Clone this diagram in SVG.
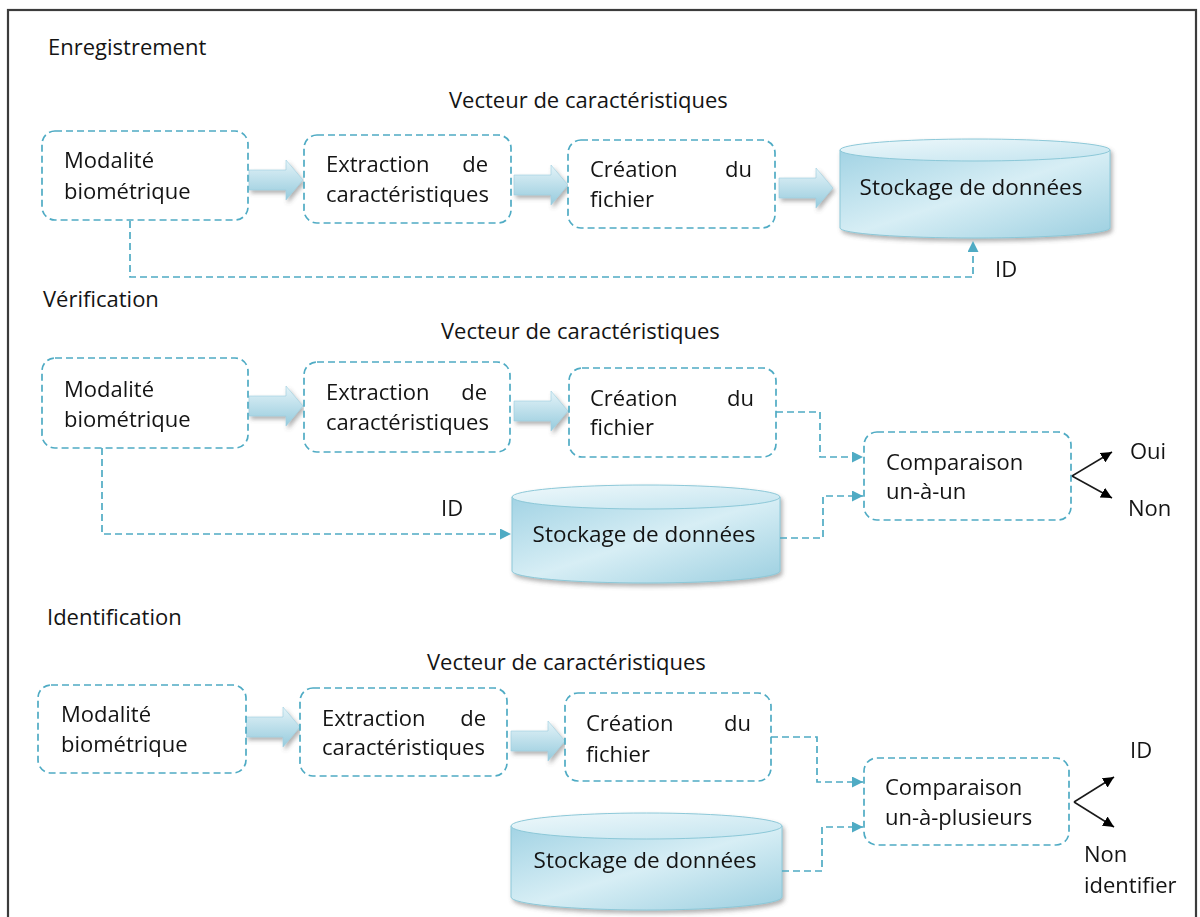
<svg xmlns="http://www.w3.org/2000/svg" width="1200" height="917" viewBox="0 0 1200 917">
  <style>
    .t { font-family: "Open Sans", "Liberation Sans", sans-serif; font-size: 22px; fill: #141414; }
    .c { font-size: 22.5px; }
    .e { text-anchor: end; }
    .m { text-anchor: middle; }
    .box { fill: #ffffff; stroke: #4fabc4; stroke-width: 1.7; stroke-dasharray: 7 4; }
    .dash { fill: none; stroke: #4fabc4; stroke-width: 1.7; stroke-dasharray: 7 4; }
    .res { fill: none; stroke: #1a1a1a; stroke-width: 1.6; }
    .cylbody { fill: url(#cylGrad); stroke: #8cc8d8; stroke-width: 1; }
    .cyltop { fill: url(#cylTopGrad); stroke: #8cc8d8; stroke-width: 1; }
    .blk { fill: url(#arrGrad); stroke: #9ccfdf; stroke-width: 0.6; }
  </style>
  <defs>
    <linearGradient id="cylGrad" x1="0" y1="0" x2="1" y2="1">
      <stop offset="0" stop-color="#a2d3e4"/>
      <stop offset="0.5" stop-color="#d7eef5"/>
      <stop offset="1" stop-color="#9ccfe0"/>
    </linearGradient>
    <linearGradient id="cylTopGrad" x1="0" y1="0" x2="1" y2="1">
      <stop offset="0" stop-color="#eef8fb"/>
      <stop offset="1" stop-color="#c3e4ef"/>
    </linearGradient>
    <linearGradient id="arrGrad" x1="0" y1="0" x2="0" y2="1">
      <stop offset="0" stop-color="#e4f3f8"/>
      <stop offset="1" stop-color="#96cbdd"/>
    </linearGradient>
    <filter id="shadow" x="-10%" y="-20%" width="130%" height="160%">
      <feDropShadow dx="2" dy="3" stdDeviation="2" flood-color="#555" flood-opacity="0.45"/>
    </filter>
    <marker id="tri" viewBox="0 0 10 10" refX="10" refY="5" markerWidth="11" markerHeight="11" markerUnits="userSpaceOnUse" orient="auto">
      <path d="M0,0 L10,5 L0,10 Z" fill="#4fabc4"/>
    </marker>
    <marker id="blackTri" viewBox="0 0 10 10" refX="10" refY="5" markerWidth="11" markerHeight="11" markerUnits="userSpaceOnUse" orient="auto">
      <path d="M0,0 L10,5 L0,10 Z" fill="#000"/>
    </marker>
    <path id="blockArrow" class="blk" d="M0,-10 H37 V-20 L54,0 L37,20 V10 H0 Z"/>
  </defs>

  <rect width="1200" height="917" fill="#ffffff"/>
  <!-- outer frame -->
  <rect x="8" y="10" width="1188" height="1000" fill="none" stroke="#3c3c3c" stroke-width="2.2"/>

  <!-- section headings -->
  <g id="headings">
    <text class="t" x="48" y="55">Enregistrement</text>
    <text class="t" x="449" y="108">Vecteur de caractéristiques</text>
    <text class="t" x="43" y="307">Vérification</text>
    <text class="t" x="441" y="339">Vecteur de caractéristiques</text>
    <text class="t" x="47" y="625">Identification</text>
    <text class="t" x="427" y="670">Vecteur de caractéristiques</text>
  </g>

  <!-- block arrows between steps -->
  <g id="blockArrows" filter="url(#shadow)">
    <use href="#blockArrow" transform="translate(249,180)"/>
    <use href="#blockArrow" transform="translate(514,185)"/>
    <use href="#blockArrow" transform="translate(779,188)"/>
    <use href="#blockArrow" transform="translate(249,406)"/>
    <use href="#blockArrow" transform="translate(514,411)"/>
    <use href="#blockArrow" transform="translate(246,727)"/>
    <use href="#blockArrow" transform="translate(511,741)"/>
  </g>

  <!-- Enregistrement -->
  <g id="enr-modalite">
    <rect class="box" x="42" y="131" width="206" height="89" rx="13"/>
    <text class="t" x="64" y="168">Modalité</text>
    <text class="t" x="64" y="199">biométrique</text>
  </g>
  <g id="enr-extraction">
    <rect class="box" x="304" y="135" width="207" height="88" rx="13"/>
    <text class="t" x="326" y="172">Extraction</text>
    <text class="t e" x="488" y="172">de</text>
    <text class="t" x="326" y="202">caractéristiques</text>
  </g>
  <g id="enr-creation">
    <rect class="box" x="568" y="140" width="207" height="88" rx="13"/>
    <text class="t" x="590" y="177">Création</text>
    <text class="t e" x="752" y="177">du</text>
    <text class="t" x="590" y="207">fichier</text>
  </g>
  <g id="enr-stockage">
    <g filter="url(#shadow)">
      <path class="cylbody" d="M840,150 V228 A135,10 0 0 0 1110,228 V150 Z"/>
      <ellipse class="cyltop" cx="975" cy="150" rx="135" ry="11"/>
    </g>
    <text class="t c m" x="971" y="195">Stockage de données</text>
  </g>

  <!-- Vérification -->
  <g id="ver-modalite">
    <rect class="box" x="42" y="358" width="206" height="90" rx="13"/>
    <text class="t" x="64" y="397">Modalité</text>
    <text class="t" x="64" y="427">biométrique</text>
  </g>
  <g id="ver-extraction">
    <rect class="box" x="304" y="362" width="206" height="90" rx="13"/>
    <text class="t" x="326" y="400">Extraction</text>
    <text class="t e" x="487" y="400">de</text>
    <text class="t" x="326" y="430">caractéristiques</text>
  </g>
  <g id="ver-creation">
    <rect class="box" x="569" y="368" width="207" height="89" rx="13"/>
    <text class="t" x="590" y="406">Création</text>
    <text class="t e" x="754" y="406">du</text>
    <text class="t" x="590" y="435">fichier</text>
  </g>
  <g id="ver-stockage">
    <g filter="url(#shadow)">
      <path class="cylbody" d="M512,497 V571 A134,12 0 0 0 780,571 V497 Z"/>
      <ellipse class="cyltop" cx="646" cy="497" rx="134" ry="12"/>
    </g>
    <text class="t c m" x="644" y="542">Stockage de données</text>
  </g>
  <g id="ver-comparaison">
    <rect class="box" x="864" y="432" width="207" height="88" rx="13"/>
    <text class="t" x="886" y="470">Comparaison</text>
    <text class="t" x="886" y="499">un-à-un</text>
  </g>

  <!-- Identification -->
  <g id="id-modalite">
    <rect class="box" x="38" y="685" width="208" height="88" rx="13"/>
    <text class="t" x="61" y="722">Modalité</text>
    <text class="t" x="61" y="752">biométrique</text>
  </g>
  <g id="id-extraction">
    <rect class="box" x="300" y="688" width="207" height="88" rx="13"/>
    <text class="t" x="322" y="726">Extraction</text>
    <text class="t e" x="486" y="726">de</text>
    <text class="t" x="322" y="755">caractéristiques</text>
  </g>
  <g id="id-creation">
    <rect class="box" x="565" y="693" width="206" height="88" rx="13"/>
    <text class="t" x="586" y="731">Création</text>
    <text class="t e" x="751" y="731">du</text>
    <text class="t" x="586" y="762">fichier</text>
  </g>
  <g id="id-stockage">
    <g filter="url(#shadow)">
      <path class="cylbody" d="M511,826 V897 A135.5,13 0 0 0 782,897 V826 Z"/>
      <ellipse class="cyltop" cx="646.5" cy="826" rx="135.5" ry="13"/>
    </g>
    <text class="t c m" x="645" y="868">Stockage de données</text>
  </g>
  <g id="id-comparaison">
    <rect class="box" x="864" y="758" width="205" height="87" rx="13"/>
    <text class="t" x="885" y="795">Comparaison</text>
    <text class="t" x="885" y="825">un-à-plusieurs</text>
  </g>

  <!-- connectors -->
  <g id="connectors">
    <path class="dash" d="M130,221 V277 H973 V241" marker-end="url(#tri)"/>
    <path class="dash" d="M102,448 V534 H511" marker-end="url(#tri)"/>
    <path class="dash" d="M776,412 H820 V457 H863" marker-end="url(#tri)"/>
    <path class="dash" d="M780,538 H823 V496 H863" marker-end="url(#tri)"/>
    <path class="dash" d="M771,737 H817 V782 H863" marker-end="url(#tri)"/>
    <path class="dash" d="M782,871 H822 V827 H863" marker-end="url(#tri)"/>
    <path class="res" d="M1072,476 L1112,452" marker-end="url(#blackTri)"/>
    <path class="res" d="M1072,476 L1112,498" marker-end="url(#blackTri)"/>
    <path class="res" d="M1074,802 L1114,777" marker-end="url(#blackTri)"/>
    <path class="res" d="M1074,802 L1114,827" marker-end="url(#blackTri)"/>
  </g>

  <!-- connector labels -->
  <g id="labels">
    <text class="t" x="995" y="277">ID</text>
    <text class="t" x="441" y="516">ID</text>
    <text class="t" x="1130" y="459">Oui</text>
    <text class="t" x="1128" y="516">Non</text>
    <text class="t" x="1130" y="758">ID</text>
    <text class="t" x="1084" y="862">Non</text>
    <text class="t" x="1084" y="893">identifier</text>
  </g>
</svg>
